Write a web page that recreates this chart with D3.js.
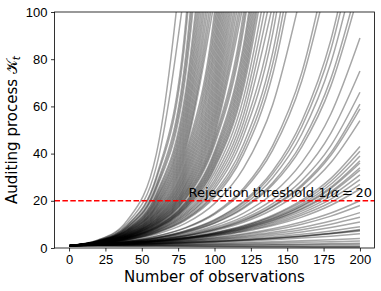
<!DOCTYPE html>
<html>
<head>
<meta charset="utf-8">
<script src="https://cdn.jsdelivr.net/npm/d3@7"></script>
<style>
  body { margin: 0; background: #fff; }
  svg { font-family: "DejaVu Sans", sans-serif; }
</style>
</head>
<body>
<div id="chart"></div>
<script>
// observation grid the curves were read at
let steps = [0, 20, 40, 60, 80, 100, 120, 140, 160, 180, 200];

// runs that leave the top of the plot (last one past 100)
let escaping = [
  [1, 3.4, 11.7, 39.8, 136],
  [1, 3.3, 10.6, 34.5, 112],
  [1, 3.1, 9.7, 30.3, 94.4, 294],
  [1, 3.07, 9.45, 29.1, 89.4, 275],
  [1, 2.99, 8.96, 26.8, 80.4, 240],
  [1, 2.95, 8.73, 25.8, 76.3, 225],
  [1, 2.92, 8.51, 24.9, 72.4, 212],
  [1, 2.85, 8.11, 23.1, 65.8, 187],
  [1, 2.81, 7.92, 22.3, 62.8, 177],
  [1, 2.78, 7.74, 21.5, 59.9, 167],
  [1, 2.75, 7.57, 20.8, 57.3, 158],
  [1, 2.72, 7.41, 20.2, 54.8, 149],
  [1, 2.69, 7.25, 19.5, 52.5, 141],
  [1, 2.66, 7.10, 18.9, 50.4, 134],
  [1, 2.64, 6.95, 18.3, 48.3, 127],
  [1, 2.61, 6.81, 17.8, 46.4, 121],
  [1, 2.58, 6.68, 17.3, 44.6, 115],
  [1, 2.56, 6.55, 16.8, 42.9, 110],
  [1, 2.54, 6.43, 16.3, 41.3, 105],
  [1, 2.51, 6.31, 15.8, 39.8, 100, 251],
  [1, 2.49, 6.19, 15.4, 38.4, 95.5, 238],
  [1, 2.47, 6.08, 15.0, 37.0, 91.4, 225],
  [1, 2.45, 5.98, 14.6, 35.7, 87.4, 214],
  [1, 2.42, 5.88, 14.3, 34.5, 83.8, 203],
  [1, 2.40, 5.78, 13.9, 33.4, 80.4, 193],
  [1, 2.38, 5.69, 13.6, 32.3, 77.1, 184],
  [1, 2.37, 5.60, 13.2, 31.3, 74.0, 175],
  [1, 2.35, 5.51, 12.9, 30.3, 71.1, 167],
  [1, 2.33, 5.42, 12.6, 29.4, 68.4, 159],
  [1, 2.31, 5.34, 12.3, 28.5, 65.8, 152],
  [1, 2.29, 5.26, 12.1, 27.6, 63.4, 145],
  [1, 2.28, 5.18, 11.8, 26.8, 61.1, 139],
  [1, 2.26, 5.10, 11.5, 26.1, 58.9, 133],
  [1, 2.24, 5.03, 11.3, 25.3, 56.8, 127],
  [1, 2.23, 4.96, 11.1, 24.6, 54.8, 122],
  [1, 2.21, 4.89, 10.8, 23.9, 53.0, 117],
  [1, 2.20, 4.83, 10.6, 23.3, 51.2, 112],
  [1, 2.18, 4.76, 10.4, 22.7, 49.5, 108],
  [1, 2.17, 4.70, 10.2, 22.1, 47.9, 104],
  [1, 2.15, 4.64, 10.0, 21.5, 46.4, 100, 215],
  [1, 2.14, 4.58, 9.81, 21.0, 45.0, 96.2, 206],
  [1, 2.13, 4.53, 9.63, 20.5, 43.6, 92.7, 197],
  [1, 2.10, 4.42, 9.29, 19.5, 41.0, 86.1, 181],
  [1, 2.09, 4.37, 9.12, 19.1, 39.8, 83.2, 174],
  [1, 2.08, 4.32, 8.96, 18.6, 38.7, 80.3, 167],
  [1, 2.07, 4.26, 8.81, 18.2, 37.6, 77.6, 160],
  [1, 2.05, 4.22, 8.66, 17.8, 36.5, 75.0, 154],
  [1, 2.04, 4.17, 8.51, 17.4, 35.5, 72.5, 148],
  [1, 2.03, 4.12, 8.38, 17.0, 34.5, 70.2, 143],
  [1, 2.02, 4.08, 8.24, 16.6, 33.6, 67.9, 137],
  [1, 2.00, 4.00, 7.98, 16.0, 31.9, 63.8, 127],
  [1, 1.98, 3.91, 7.74, 15.3, 30.3, 59.9, 119],
  [1, 1.96, 3.84, 7.52, 14.7, 28.8, 56.5, 111],
  [1, 1.94, 3.76, 7.30, 14.2, 27.5, 53.3, 103],
  [1, 1.92, 3.69, 7.10, 13.6, 26.2, 50.4, 96.8, 186],
  [1, 1.90, 3.63, 6.90, 13.1, 25.0, 47.7, 90.7, 173],
  [1, 1.88, 3.53, 6.64, 12.5, 23.4, 44.1, 82.8, 156],
  [1, 1.86, 3.47, 6.47, 12.1, 22.5, 41.8, 78.0, 145],
  [1, 1.85, 3.42, 6.31, 11.7, 21.5, 39.8, 73.6, 136],
  [1, 1.80, 3.23, 5.81, 10.4, 18.8, 33.8, 60.7, 109],
  [1, 1.71, 2.94, 5.03, 8.63, 14.8, 25.3, 43.4, 74.3, 127],
  [1, 1.70, 2.90, 4.94, 8.41, 14.3, 24.4, 41.5, 70.8, 120],
  [1, 1.64, 2.71, 4.45, 7.32, 12.0, 19.8, 32.6, 53.7, 88.2, 145],
  [1, 1.64, 2.68, 4.38, 7.17, 11.7, 19.2, 31.4, 51.4, 84.1, 138],
  [1, 1.62, 2.64, 4.28, 6.95, 11.3, 18.3, 29.8, 48.3, 78.5, 127],
  [1, 1.61, 2.58, 4.16, 6.68, 10.7, 17.3, 27.7, 44.6, 71.8, 115],
  [1, 1.60, 2.56, 4.10, 6.55, 10.5, 16.8, 26.8, 42.9, 68.7, 110]
];

// runs that stay below the top up to 200 observations
let staying = [
  [1, 1.57, 2.45, 3.85, 6.02, 9.43, 14.8, 23.1, 36.2, 56.8, 89],
  [1, 1.54, 2.37, 3.65, 5.62, 8.66, 13.3, 20.5, 31.6, 48.7, 75],
  [1, 1.52, 2.31, 3.51, 5.34, 8.12, 12.4, 18.8, 28.6, 43.4, 66],
  [1, 1.51, 2.28, 3.43, 5.18, 7.81, 11.8, 17.8, 26.8, 40.4, 61],
  [1, 1.50, 2.26, 3.40, 5.11, 7.68, 11.5, 17.4, 26.1, 39.3, 59],
  [1, 1.49, 2.22, 3.31, 4.93, 7.35, 10.9, 16.3, 24.3, 36.2, 54],
  [1, 1.46, 2.12, 3.09, 4.50, 6.56, 9.55, 13.9, 20.3, 29.5, 43],
  [1, 1.45, 2.10, 3.05, 4.42, 6.40, 9.28, 13.5, 19.5, 28.3, 41],
  [1, 1.44, 2.08, 3.00, 4.33, 6.25, 9.01, 13.0, 18.7, 27.0, 39],
  [1, 1.44, 2.06, 2.95, 4.24, 6.08, 8.73, 12.5, 18.0, 25.8, 37],
  [1, 1.43, 2.05, 2.93, 4.19, 6.00, 8.59, 12.3, 17.6, 25.2, 36],
  [1, 1.42, 2.02, 2.88, 4.10, 5.83, 8.30, 11.8, 16.8, 23.9, 34],
  [1, 1.42, 2.01, 2.85, 4.05, 5.74, 8.15, 11.6, 16.4, 23.3, 33],
  [1, 1.41, 1.99, 2.80, 3.95, 5.57, 7.85, 11.1, 15.6, 22.0, 31],
  [1, 1.40, 1.96, 2.75, 3.85, 5.39, 7.54, 10.6, 14.8, 20.7, 29],
  [1, 1.39, 1.93, 2.69, 3.74, 5.20, 7.22, 10.0, 14.0, 19.4, 27],
  [1, 1.38, 1.90, 2.63, 3.62, 5.00, 6.90, 9.52, 13.1, 18.1, 25],
  [1, 1.35, 1.82, 2.46, 3.31, 4.47, 6.03, 8.14, 11.0, 14.8, 20],
  [1, 1.34, 1.78, 2.38, 3.18, 4.24, 5.66, 7.56, 10.1, 13.5, 18],
  [1, 1.31, 1.72, 2.25, 2.95, 3.87, 5.08, 6.66, 8.73, 11.4, 15],
  [1, 1.29, 1.67, 2.16, 2.79, 3.61, 4.66, 6.02, 7.78, 10.1, 13],
  [1, 1.27, 1.62, 2.05, 2.61, 3.32, 4.21, 5.36, 6.81, 8.66, 11],
  [1, 1.25, 1.55, 1.93, 2.41, 3.00, 3.74, 4.66, 5.80, 7.22, 9],
  [1, 1.22, 1.50, 1.83, 2.24, 2.74, 3.35, 4.10, 5.01, 6.13, 7.5],
  [1, 1.22, 1.49, 1.84, 2.26, 2.77, 3.40, 4.17, 5.10, 6.26, 7.8],
  [1, 1.21, 1.48, 1.81, 2.21, 2.70, 3.29, 4.02, 4.91, 6.00, 7.2],
  [1, 1.20, 1.43, 1.71, 2.05, 2.45, 2.93, 3.51, 4.19, 5.02, 6],
  [1, 1.15, 1.32, 1.52, 1.74, 2.00, 2.30, 2.64, 3.03, 3.48, 4],
  [1, 1.12, 1.25, 1.39, 1.55, 1.73, 1.93, 2.16, 2.41, 2.69, 3],
  [1, 1.07, 1.15, 1.23, 1.32, 1.41, 1.52, 1.62, 1.74, 1.87, 2],
  [1, 1.04, 1.08, 1.13, 1.18, 1.22, 1.27, 1.33, 1.38, 1.44, 1.5],
  [1, 0.98, 0.96, 0.94, 0.91, 0.89, 0.87, 0.86, 0.84, 0.82, 0.80],
  [1, 0.93, 0.87, 0.81, 0.76, 0.71, 0.66, 0.62, 0.57, 0.54, 0.5],
  [1, 0.89, 0.79, 0.70, 0.62, 0.55, 0.49, 0.43, 0.38, 0.34, 0.3]
];

let threshold = 20;
let xTicks = [0, 25, 50, 75, 100, 125, 150, 175, 200];
let yTicks = [0, 20, 40, 60, 80, 100];

let width = 381,
  height = 291;
let plotLeft = 54.5, plotRight = 374.5, plotTop = 12, plotBottom = 248;

let x = d3.scaleLinear().domain([-10, 210]).range([plotLeft, plotRight]);
let y = d3.scaleLinear().domain([0, 100]).range([plotBottom, plotTop]);

let line = d3.line()
  .x((d, i) => x(steps[i]))
  .y(d => y(d))
  .curve(d3.curveMonotoneX);

function chart() {
  const svg = d3.select('#chart').append('svg')
    .attr('width', width)
    .attr('height', height);

  svg.append('clipPath').attr('id', 'plot')
    .append('rect')
    .attr('x', plotLeft).attr('y', plotTop)
    .attr('width', plotRight - plotLeft).attr('height', plotBottom - plotTop);

  const runs = svg.append('g').attr('clip-path', 'url(#plot)');

  runs.selectAll('path')
    .data(escaping.concat(staying))
    .enter().append('path')
    .attr('d', line)
    .attr('fill', 'none')
    .attr('stroke', '#000')
    .attr('stroke-opacity', 0.35)
    .attr('stroke-width', 1.5);

  // rejection threshold
  svg.append('line')
    .attr('x1', plotLeft).attr('x2', plotRight)
    .attr('y1', y(threshold)).attr('y2', y(threshold))
    .attr('stroke', 'red')
    .attr('stroke-width', 1.5)
    .attr('stroke-dasharray', '5.5,2.4');

  const label = svg.append('text')
    .attr('x', 372)
    .attr('y', y(threshold) - 3.5)
    .attr('text-anchor', 'end')
    .style('font-size', '13px');
  label.append('tspan').text('Rejection threshold 1/');
  label.append('tspan').style('font-style', 'italic').text('α');
  label.append('tspan').text('\u2009=\u2009' + threshold);

  // axes
  svg.append('g')
    .attr('transform', `translate(0,${plotBottom})`)
    .call(d3.axisBottom(x).tickValues(xTicks).tickSize(3.5).tickPadding(3))
    .call(g => g.select('.domain').remove())
    .selectAll('text').style('font-size', '13px').attr('fill', '#000');

  svg.append('g')
    .attr('transform', `translate(${plotLeft},0)`)
    .call(d3.axisLeft(y).tickValues(yTicks).tickSize(3.5).tickPadding(3.5))
    .call(g => g.select('.domain').remove())
    .selectAll('text').style('font-size', '13px').attr('fill', '#000');

  svg.selectAll('.tick line').attr('stroke', '#000').attr('stroke-width', 0.8);

  svg.append('rect')
    .attr('x', plotLeft).attr('y', plotTop)
    .attr('width', plotRight - plotLeft).attr('height', plotBottom - plotTop)
    .attr('fill', 'none')
    .attr('stroke', '#000')
    .attr('stroke-width', 0.8);

  svg.append('text')
    .attr('x', (plotLeft + plotRight) / 2)
    .attr('y', 282)
    .attr('text-anchor', 'middle')
    .style('font-size', '15px')
    .text('Number of observations');

  const ylab = svg.append('text')
    .attr('transform', `translate(17,${(plotTop + plotBottom) / 2}) rotate(-90)`)
    .attr('text-anchor', 'middle')
    .style('font-size', '15px');
  ylab.append('tspan').text('Auditing process ');
  ylab.append('tspan').text('𝒦');
  ylab.append('tspan').attr('dy', 3).style('font-size', '10.5px').style('font-style', 'italic').text('t');

  return svg.node();
}

chart();
</script>
</body>
</html>
